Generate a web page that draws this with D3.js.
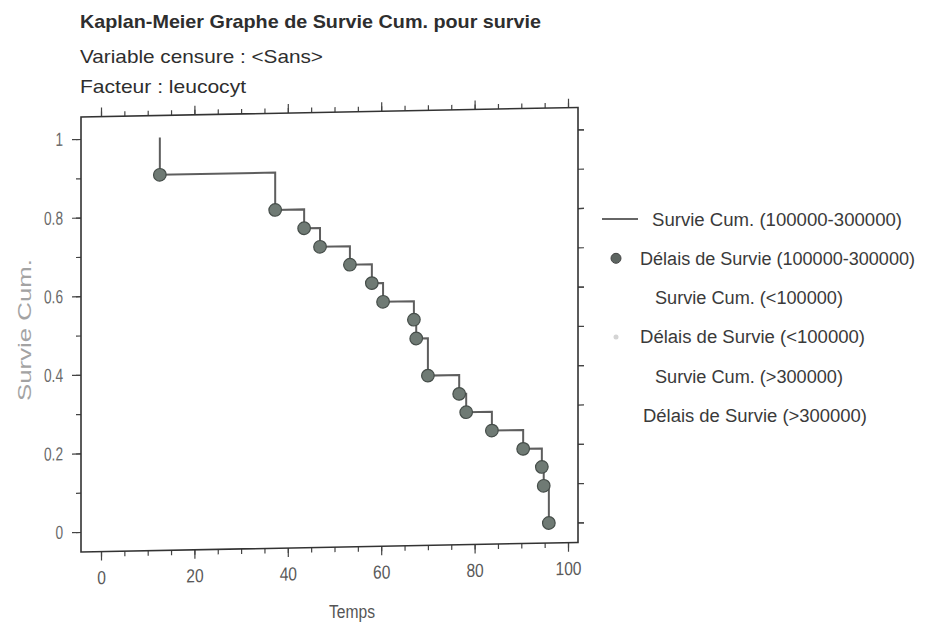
<!DOCTYPE html>
<html>
<head>
<meta charset="utf-8">
<script src="https://cdn.jsdelivr.net/npm/d3@7"></script>
<style>
  html, body { margin: 0; padding: 0; background: #fff; }
  svg { display: block; font-family: "Liberation Sans", Arial, sans-serif; }
</style>
</head>
<body>
<svg id="chart" width="930" height="627"></svg>
<script>
  // Données (une seule courbe : groupe 100000-300000)
  const titleLines = [
    "Kaplan-Meier Graphe de Survie Cum. pour survie",
    "Variable censure : <Sans>",
    "Facteur : leucocyt"
  ];
  const eventTimes = [12.6, 37.3, 43.5, 46.9, 53.3, 58.0, 60.4, 67.0, 67.5, 70.0, 76.7, 78.2, 83.7, 90.4, 94.4, 94.8, 95.9];
  const cumSurvival = [0.905, 0.81, 0.762, 0.714, 0.667, 0.619, 0.571, 0.524, 0.476, 0.381, 0.333, 0.286, 0.238, 0.19, 0.143, 0.095, 0];
  const xTicks = [0, 20, 40, 60, 80, 100];
  const xMinorTicks = d3.range(0, 101, 5);
  const yTicks = [0, 0.2, 0.4, 0.6, 0.8, 1];
  const yMinorTicks = d3.range(0, 1.01, 0.1);
  const xLabel = "Temps";
  const yLabel = "Survie Cum.";
  const legendLabels = [
    "Survie Cum. (100000-300000)",
    "Délais de Survie (100000-300000)",
    "Survie Cum. (<100000)",
    "Délais de Survie (<100000)",
    "Survie Cum. (>300000)",
    "Délais de Survie (>300000)"
  ];

  const svg = d3.select("#chart");

  // Le scan est un peu comprimé horizontalement : on resserre les textes.
  function fit(sel, w) {
    sel.attr("textLength", w).attr("lengthAdjust", "spacingAndGlyphs");
  }
  function condense(sel, k) {
    sel.each(function () {
      const n = this.getComputedTextLength();
      d3.select(this).attr("textLength", n * k).attr("lengthAdjust", "spacingAndGlyphs");
    });
  }

  // --- titre ---
  const titleY = [28, 63, 93];
  const titleW = [461, 243, 166];
  titleLines.forEach((t, i) => {
    svg.append("text")
      .attr("x", 80).attr("y", titleY[i])
      .attr("fill", "#2e2e2e")
      .style("font-size", "19px")
      .style("font-weight", i === 0 ? "bold" : "normal")
      .text(t)
      .call(fit, titleW[i]);
  });

  // --- zone du graphe ---
  const frame = { left: 81, right: 578, top: 117, bottom: 552 };
  const x = d3.scaleLinear().domain([0, 100]).range([101, 568]);
  const y = d3.scaleLinear().domain([0, 1]).range([532, 139]);

  // légère inclinaison du scan
  const plot = svg.append("g")
    .attr("transform", `translate(${frame.left},0) skewY(-1.1) translate(${-frame.left},0)`);

  function styleAxis(g) {
    g.select(".domain").remove();
    g.selectAll(".tick line").attr("stroke", "#444").attr("stroke-width", 1.2);
  }

  // graduations secondaires
  plot.append("g").attr("transform", `translate(0,${frame.bottom})`)
    .call(d3.axisBottom(x).tickValues(xMinorTicks).tickSize(5).tickFormat(""))
    .call(styleAxis);
  plot.append("g").attr("transform", `translate(0,${frame.top})`)
    .call(d3.axisTop(x).tickValues(xMinorTicks).tickSize(5).tickFormat(""))
    .call(styleAxis);
  plot.append("g").attr("transform", `translate(${frame.left},0)`)
    .call(d3.axisLeft(y).tickValues(yMinorTicks).tickSize(5).tickFormat(""))
    .call(styleAxis);
  plot.append("g").attr("transform", `translate(${frame.right},0)`)
    .call(d3.axisRight(y).tickValues(yMinorTicks).tickSize(6).tickFormat(""))
    .call(styleAxis);

  // graduations principales
  const xAxis = plot.append("g").attr("transform", `translate(0,${frame.bottom})`)
    .call(d3.axisBottom(x).tickValues(xTicks).tickSize(9).tickPadding(10).tickFormat(d3.format("d")))
    .call(styleAxis);
  xAxis.selectAll(".tick text")
    .attr("fill", "#5a5a5a").style("font-size", "19px")
    .call(condense, 0.82);

  plot.append("g").attr("transform", `translate(0,${frame.top})`)
    .call(d3.axisTop(x).tickValues(xTicks).tickSize(9).tickFormat(""))
    .call(styleAxis);

  const yAxis = plot.append("g").attr("transform", `translate(${frame.left},0)`)
    .call(d3.axisLeft(y).tickValues(yTicks).tickSize(9).tickPadding(9).tickFormat(d => d === 0 || d === 1 ? d3.format("d")(d) : d3.format(".1f")(d)))
    .call(styleAxis);
  yAxis.selectAll(".tick text")
    .attr("fill", "#6a6a6a").style("font-size", "19px")
    .call(condense, 0.72);

  plot.append("g").attr("transform", `translate(${frame.right},0)`)
    .call(d3.axisRight(y).tickValues(yTicks).tickSize(6).tickFormat(""))
    .call(styleAxis);

  // cadre
  plot.append("rect")
    .attr("x", frame.left).attr("y", frame.top)
    .attr("width", frame.right - frame.left).attr("height", frame.bottom - frame.top)
    .attr("fill", "none").attr("stroke", "#333").attr("stroke-width", 1.6);

  // courbe en escalier
  const points = [{ t: eventTimes[0], s: 1 }].concat(
    eventTimes.map((t, i) => ({ t, s: cumSurvival[i] }))
  );
  const line = d3.line()
    .x(d => x(d.t)).y(d => y(d.s))
    .curve(d3.curveStepAfter);
  plot.append("path")
    .datum(points)
    .attr("d", line)
    .attr("fill", "none").attr("stroke", "#5e5e5e").attr("stroke-width", 2);

  plot.append("g")
    .selectAll("circle")
    .data(points.slice(1))
    .join("circle")
    .attr("cx", d => x(d.t)).attr("cy", d => y(d.s))
    .attr("r", 6.3)
    .attr("fill", "#6f7a74").attr("stroke", "#454d49").attr("stroke-width", 1.2);

  // titres d'axes
  svg.append("text")
    .attr("x", 352).attr("y", 618)
    .attr("text-anchor", "middle")
    .attr("fill", "#555").style("font-size", "18px")
    .text(xLabel)
    .call(fit, 46);
  svg.append("text")
    .attr("transform", "translate(31,330) rotate(-90)")
    .attr("text-anchor", "middle")
    .attr("fill", "#a3a3a3").style("font-size", "19px")
    .text(yLabel)
    .call(fit, 142);

  // --- légende ---
  const legendX = [652, 640, 655, 640, 655, 643];
  const legendW = [250, 275, 188, 225, 188, 224];
  const legend = svg.append("g");
  legendLabels.forEach((lab, i) => {
    const cy = 219 + 39.3 * i;
    legend.append("text")
      .attr("x", legendX[i]).attr("y", cy + 6.5)
      .attr("fill", "#3a3a3a").style("font-size", "18px")
      .text(lab)
      .call(fit, legendW[i]);
  });
  legend.append("line")
    .attr("x1", 602).attr("x2", 638).attr("y1", 219).attr("y2", 219)
    .attr("stroke", "#333").attr("stroke-width", 1.5);
  legend.append("circle")
    .attr("cx", 616).attr("cy", 219 + 39.3).attr("r", 5)
    .attr("fill", "#5d6561").attr("stroke", "#444").attr("stroke-width", 1);
  legend.append("circle")
    .attr("cx", 616).attr("cy", 219 + 39.3 * 3).attr("r", 2.5)
    .attr("fill", "#d4d4d4");
</script>
</body>
</html>
